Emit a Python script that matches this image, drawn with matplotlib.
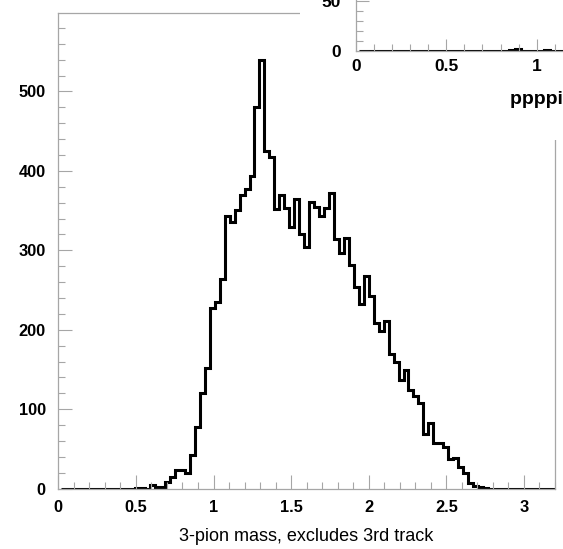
import numpy as np
import matplotlib
matplotlib.use("Agg")
import matplotlib.pyplot as plt
from matplotlib.ticker import MultipleLocator

# --- data ---
bin_width = 0.032
bin_start = 0.016
counts = [0, 0, 0, 0, 0, 0, 0, 0, 0, 0,
          0, 0, 0, 0, 0, 1, 1, 0, 5, 2,
          2, 9, 15, 23, 23, 20, 43, 78, 121, 152,
          228, 235, 264, 343, 336, 351, 370, 377, 394, 481,
          539, 425, 418, 352, 370, 353, 329, 364, 320, 304,
          361, 355, 343, 353, 372, 314, 297, 316, 282, 254,
          233, 268, 243, 209, 198, 211, 170, 160, 137, 149,
          124, 117, 108, 69, 83, 57, 57, 52, 38, 39,
          27, 20, 7, 4, 2, 1, 0, 0, 0, 0,
          0, 0, 0, 0, 0, 0, 0, 0, 0, 0]
inset_counts = [0] * 100
inset_counts[26] = 1
inset_counts[27] = 2
inset_counts[32] = 1
xlabel = "3-pion mass, excludes 3rd track"
inset_xlabel = "ppppi mass"
inset_xticks = [0, 0.5, 1]

edges = bin_start + bin_width * np.arange(len(counts) + 1)

plt.rcParams['font.family'] = ['Liberation Sans', 'DejaVu Sans']
W, H = 563, 549
fig = plt.figure(figsize=(W / 100, H / 100), dpi=100)
frame_col = '#a6a6a6'

# --- main pad ---
ax = fig.add_axes([58.3 / W, 1 - 488.7 / H, 496.7 / W, 475.7 / H])
ax.stairs(counts, edges, color='black', lw=2.2, baseline=0)
ax.set_xlim(0, 3.2)
ax.set_ylim(0, 598.7)
ax.xaxis.set_major_locator(MultipleLocator(0.5))
ax.xaxis.set_minor_locator(MultipleLocator(0.1))
ax.yaxis.set_major_locator(MultipleLocator(100))
ax.yaxis.set_minor_locator(MultipleLocator(20))
ax.xaxis.set_major_formatter(plt.FuncFormatter(lambda v, p: f"{v:g}"))
for s in ax.spines.values():
    s.set_color(frame_col)
    s.set_linewidth(0.9)
ax.tick_params(which='both', direction='in', color=frame_col, width=0.8)
ax.tick_params(which='major', length=10)
ax.tick_params(which='minor', length=5)
ax.tick_params(axis='x', pad=8)
ax.tick_params(axis='y', pad=9)
for lab in ax.get_xticklabels() + ax.get_yticklabels():
    lab.set_fontweight('bold')
    lab.set_fontsize(11.8)
ax.set_xlabel(xlabel, fontsize=13, va='center')
ax.xaxis.set_label_coords(0.5, -0.1015)

# --- overlapping inset pad (cut by figure edge) ---
pad = fig.add_axes([300 / W, 1 - 140 / H, 263 / W, 140 / H])
pad.set_facecolor('white')
pad.set_xticks([])
pad.set_yticks([])
for s in pad.spines.values():
    s.set_visible(False)
pad.set_zorder(5)

ins = fig.add_axes([356 / W, 1 - 51 / H, 3.2 * 180.7 / W, 80 / H])
ins.set_zorder(6)
ins.patch.set_alpha(0)
ins.stairs(inset_counts, edges, color='black', lw=2.2, baseline=0)
ins.set_xlim(0, 3.2)
ins.set_ylim(0, 80)
ins.set_xticks(inset_xticks)
ins.set_xticklabels([f"{v:g}" for v in inset_xticks])
ins.xaxis.set_minor_locator(MultipleLocator(0.1))
ins.set_yticks([0, 50])
ins.yaxis.set_minor_locator(MultipleLocator(10))
for s in ins.spines.values():
    s.set_color(frame_col)
    s.set_linewidth(0.9)
ins.tick_params(which='both', direction='in', color=frame_col, width=0.8)
ins.tick_params(which='major', length=9)
ins.tick_params(which='minor', length=5)
ins.tick_params(axis='x', pad=6)
ins.tick_params(axis='y', pad=11)
for lab in ins.get_xticklabels() + ins.get_yticklabels():
    lab.set_fontweight('bold')
    lab.set_fontsize(12.5)
fig.text(510 / W, 1 - 100 / H, inset_xlabel, fontsize=14, fontweight='bold',
         ha='left', va='center', zorder=7)

fig.savefig("out.png", dpi=100)
